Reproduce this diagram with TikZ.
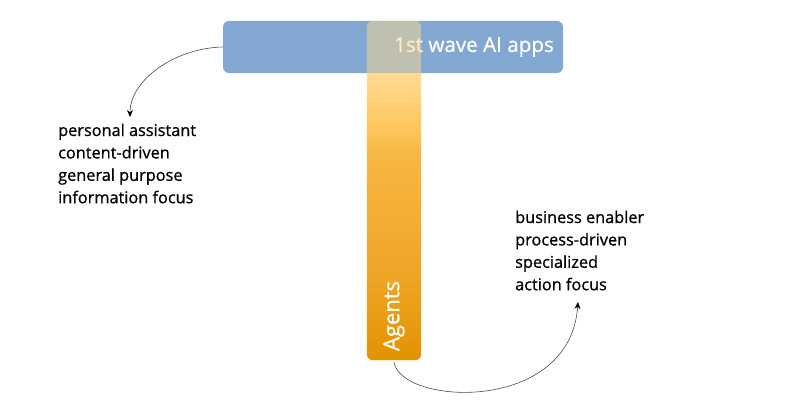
\documentclass[tikz,border=0pt]{standalone}
\usepackage{fontspec}
\setmainfont{Open Sans}
\newfontface\notefont{Open Sans}[FakeBold=0.8]
\usetikzlibrary{arrows.meta}
\definecolor{barblue}{HTML}{82A8D2}
\definecolor{orgtop}{HTML}{FFE2A6}
\definecolor{orgbot}{HTML}{E39200}
\definecolor{orgA}{HTML}{EEA424}
\definecolor{orgB}{HTML}{F8B845}
\definecolor{orgC}{HTML}{FFC55A}
\definecolor{orgD}{HTML}{FFD990}
\definecolor{linegray}{HTML}{4A4A4A}
\pgfdeclareverticalshading{agshade}{100bp}{%
  color(0bp)=(orgbot); color(25bp)=(orgbot);
  color(36.8bp)=(orgA);
  color(56bp)=(orgB);
  color(58.9bp)=(orgC);
  color(66.3bp)=(orgD);
  color(75bp)=(orgtop); color(100bp)=(orgtop)}
\tikzset{
  bar/.style={rounded corners=6pt, inner sep=0pt},
  note/.style={align=left, inner sep=0pt, font=\notefont\fontsize{16.3}{22.4}\selectfont, text=black},
  conn/.style={draw=linegray, line width=0.6pt, -{Stealth[length=7pt,width=6pt,color=black]}},
  whitetext/.style={inner sep=0pt, text=white, font=\notefont\fontsize{20.6}{24}\selectfont}
}
\begin{document}
\begin{tikzpicture}[x=1pt,y=-1pt]
\useasboundingbox (0,0) rectangle (800,412);
% blue bar
\node[bar, fill=barblue, minimum width=340pt, minimum height=52pt] (wave) at (393,47) {};
\node[whitetext, anchor=east] (wavetxt) at (554,47) {1st wave AI apps};
% orange bar (frame node)
\node[inner sep=0pt, minimum width=54pt, minimum height=339pt] (ag) at (394,190.5) {};
\begin{scope}
  \clip (350,73) rectangle (440,380);
  \path[rounded corners=6pt, shading=agshade] (ag.north west) rectangle (ag.south east);
\end{scope}
\begin{scope}
  \clip (350,10) rectangle (440,73);
  \fill[rounded corners=6pt, fill=orgD, fill opacity=0.5] (ag.north west) rectangle (ag.south east);
\end{scope}
\node[whitetext, rotate=90, font=\notefont\fontsize{22}{24}\selectfont] (agtxt) at (394,316) {Agents};
% notes
\node[note, anchor=west] (left) at (58,163.5) {personal assistant\\content-driven\\general purpose\\information focus};
\node[note, anchor=west] (right) at (515,250.5) {business enabler\\process-driven\\specialized\\action focus};
% connectors
\coordinate (tipL) at (130,117);
\coordinate (tipR) at (578,302);
\coordinate (startR) at (394,362);
\draw[conn] (wave.west) .. controls (175,48) and (130,80) .. (tipL);
\draw[conn] (startR) .. controls (400,405) and (570,415) .. (tipR);
\end{tikzpicture}
\end{document}
